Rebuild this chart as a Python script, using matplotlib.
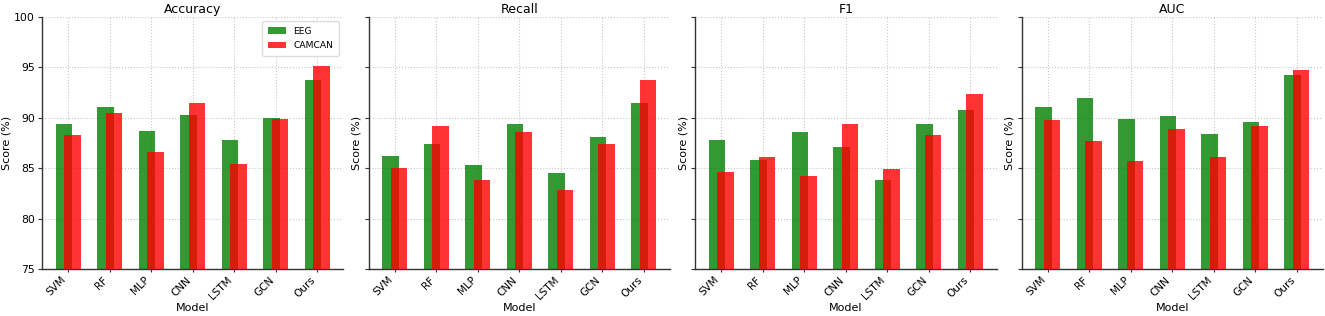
#!/usr/bin/env python3
# -*- coding: utf-8 -*-

import numpy as np
import matplotlib
matplotlib.use("Agg")
import matplotlib.pyplot as plt


MODELS = ["SVM", "RF", "MLP", "CNN", "LSTM", "GCN", "Ours"]
METRICS = ["Accuracy", "Recall", "F1", "AUC"]

# 每个指标下 EEG / CAMCAN 两组数据
ACC_EEG = [89.35, 91.06, 88.69, 90.24, 87.83, 90.00, 93.73]
ACC_CAMCAN = [88.26, 90.44, 86.64, 91.49, 85.39, 89.90, 95.15]
REC_EEG = [86.18, 87.37, 85.29, 89.38, 84.56, 88.06, 91.49]
REC_CAMCAN = [85.06, 89.15, 83.87, 88.62, 82.82, 87.37, 93.77]
F1_EEG = [87.83, 85.82, 88.62, 87.07, 83.81, 89.35, 90.77]
F1_CAMCAN = [84.66, 86.08, 84.23, 89.35, 84.96, 88.26, 92.38]
AUC_EEG = [91.03, 91.95, 89.87, 90.14, 88.36, 89.61, 94.26]
AUC_CAMCAN = [89.81, 87.66, 85.75, 88.89, 86.08, 89.15, 94.69]

EEG_VALUES = [ACC_EEG, REC_EEG, F1_EEG, AUC_EEG]
CAMCAN_VALUES = [ACC_CAMCAN, REC_CAMCAN, F1_CAMCAN, AUC_CAMCAN]

BAR_W = 0.4         # 柱宽
OFFSET = 0.1        # 两组柱子错开的距离（有重叠）


def main():
    fig, axes = plt.subplots(1, 4, figsize=(13.25, 3.16), dpi=100, sharey=True)
    fig.subplots_adjust(left=0.0317, right=0.9985, bottom=0.148, top=0.947, wspace=0.083)

    x = np.arange(len(MODELS))
    for i, ax in enumerate(axes):
        ax.bar(x - OFFSET, EEG_VALUES[i], BAR_W, color="green", alpha=0.8,
               label="EEG", zorder=2)
        ax.bar(x + OFFSET, CAMCAN_VALUES[i], BAR_W, color="red", alpha=0.8,
               label="CAMCAN", zorder=3)

        ax.set_title(METRICS[i], fontsize=9, pad=3)
        ax.set_xlabel("Model", fontsize=8, labelpad=1)
        ax.set_ylabel("Score (%)", fontsize=8, labelpad=2)
        ax.set_xticks(x)
        ax.set_xticklabels(MODELS, rotation=45, ha="right", fontsize=7.5)
        ax.set_ylim(75, 100)
        ax.set_yticks([75, 80, 85, 90, 95, 100])
        ax.tick_params(axis="y", labelsize=7.8, length=3, pad=2, color="#333333")
        ax.tick_params(axis="x", length=2, pad=2, color="#333333")

        ax.grid(True, linestyle=":", color="#c8c8c8", linewidth=0.8, zorder=0)
        ax.set_axisbelow(True)
        for side in ("top", "right"):
            ax.spines[side].set_visible(False)
        for side in ("left", "bottom"):
            ax.spines[side].set_color("#333333")
            ax.spines[side].set_linewidth(1.0)

    axes[0].legend(loc="upper right", fontsize=6.6, framealpha=1.0,
                   edgecolor="#dddddd", handlelength=2.0,
                   borderpad=0.6, labelspacing=0.6)

    fig.savefig("out.png", dpi=100)
    plt.close(fig)


if __name__ == "__main__":
    main()
